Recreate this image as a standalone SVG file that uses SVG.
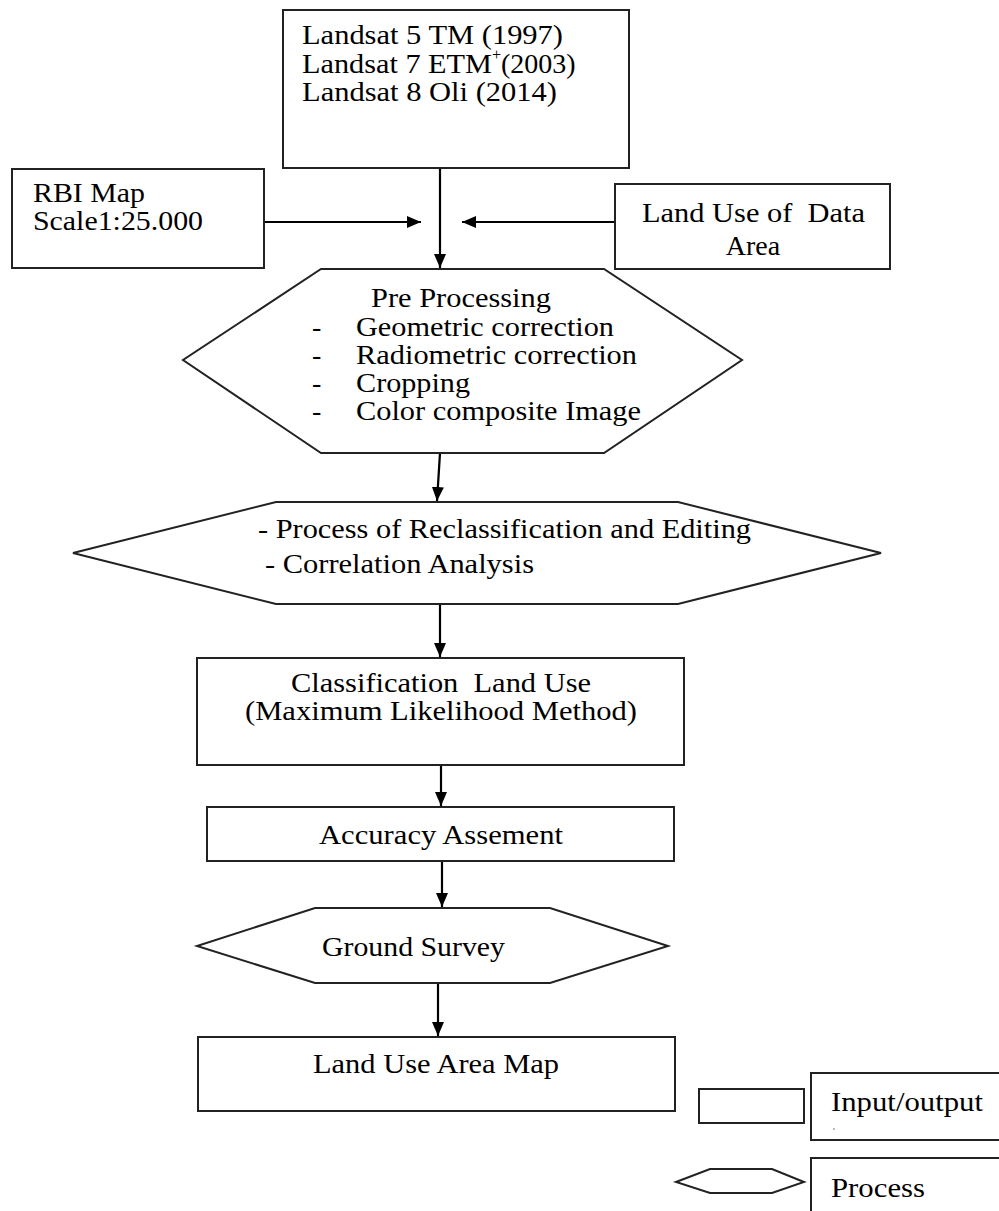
<svg xmlns="http://www.w3.org/2000/svg" width="999" height="1211" viewBox="0 0 999 1211">
<style>
.b{fill:#fff;stroke:#222;stroke-width:2}
.t{font-family:"Liberation Serif","Times New Roman",serif;font-size:28px;fill:#000}
.c{stroke:#000;stroke-width:2.2;fill:none}
</style>
<defs>
<marker id="ah" markerUnits="userSpaceOnUse" markerWidth="14" markerHeight="12" refX="14" refY="6" orient="auto">
<path d="M0,0 L14,6 L0,12 Z" fill="#000"/>
</marker>
</defs>
<rect width="999" height="1211" fill="#fff"/>
<g id="connectors">
<line class="c" x1="440" y1="168" x2="440" y2="268" marker-end="url(#ah)"/>
<line class="c" x1="264" y1="222" x2="421" y2="222" marker-end="url(#ah)"/>
<line class="c" x1="615" y1="222" x2="462" y2="222" marker-end="url(#ah)"/>
<line class="c" x1="440" y1="453" x2="437" y2="501" marker-end="url(#ah)"/>
<line class="c" x1="440" y1="604" x2="440" y2="657" marker-end="url(#ah)"/>
<line class="c" x1="441" y1="765" x2="441" y2="806" marker-end="url(#ah)"/>
<line class="c" x1="442" y1="861" x2="442" y2="907" marker-end="url(#ah)"/>
<line class="c" x1="438" y1="983" x2="438" y2="1036" marker-end="url(#ah)"/>
</g>
<g id="landsat">
<rect class="b" x="283" y="10" width="346" height="158"/>
<text class="t" x="302" y="44" textLength="261" lengthAdjust="spacingAndGlyphs">Landsat 5 TM (1997)</text>
<text class="t" x="302" y="73"><tspan textLength="190" lengthAdjust="spacingAndGlyphs">Landsat 7 ETM</tspan><tspan font-size="16" dy="-13">+</tspan><tspan dy="13">(2003)</tspan></text>
<text class="t" x="302" y="101" textLength="255" lengthAdjust="spacingAndGlyphs">Landsat 8 Oli (2014)</text>
</g>
<g id="rbi">
<rect class="b" x="12" y="169" width="252" height="99"/>
<text class="t" x="33" y="202" textLength="112" lengthAdjust="spacingAndGlyphs">RBI Map</text>
<text class="t" x="33" y="230" textLength="170" lengthAdjust="spacingAndGlyphs">Scale1:25.000</text>
</g>
<g id="landuse-data">
<rect class="b" x="615" y="184" width="275" height="85"/>
<text class="t" x="642" y="222" textLength="223" lengthAdjust="spacingAndGlyphs" xml:space="preserve">Land Use of  Data</text>
<text class="t" x="753" y="255" text-anchor="middle">Area</text>
</g>
<g id="preprocessing">
<polygon class="b" points="321,269 604,269 742,360 604,453 321,453 183,360"/>
<text class="t" x="371" y="307" textLength="180" lengthAdjust="spacingAndGlyphs">Pre Processing</text>
<text class="t" x="312" y="336">-</text>
<text class="t" x="356" y="336" textLength="258" lengthAdjust="spacingAndGlyphs">Geometric correction</text>
<text class="t" x="312" y="364">-</text>
<text class="t" x="356" y="364" textLength="281" lengthAdjust="spacingAndGlyphs">Radiometric correction</text>
<text class="t" x="312" y="392">-</text>
<text class="t" x="356" y="392" textLength="114" lengthAdjust="spacingAndGlyphs">Cropping</text>
<text class="t" x="312" y="420">-</text>
<text class="t" x="356" y="420" textLength="285" lengthAdjust="spacingAndGlyphs">Color composite Image</text>
</g>
<g id="reclassification">
<polygon class="b" points="276,502 678,502 881,553 678,604 276,604 73,553"/>
<text class="t" x="258" y="538" textLength="493" lengthAdjust="spacingAndGlyphs">- Process of Reclassification and Editing</text>
<text class="t" x="265" y="573" textLength="269" lengthAdjust="spacingAndGlyphs">- Correlation Analysis</text>
</g>
<g id="classification">
<rect class="b" x="197" y="658" width="487" height="107"/>
<text class="t" x="291" y="692" textLength="300" lengthAdjust="spacingAndGlyphs" xml:space="preserve">Classification  Land Use</text>
<text class="t" x="245" y="720" textLength="392" lengthAdjust="spacingAndGlyphs">(Maximum Likelihood Method)</text>
</g>
<g id="accuracy">
<rect class="b" x="207" y="807" width="467" height="54"/>
<text class="t" x="319" y="844" textLength="244" lengthAdjust="spacingAndGlyphs">Accuracy Assement</text>
</g>
<g id="ground-survey">
<polygon class="b" points="315,908 550,908 668,946 550,983 315,983 197,946"/>
<text class="t" x="322" y="956" textLength="183" lengthAdjust="spacingAndGlyphs">Ground Survey</text>
</g>
<g id="landuse-map">
<rect class="b" x="198" y="1037" width="477" height="74"/>
<text class="t" x="313" y="1073" textLength="246" lengthAdjust="spacingAndGlyphs">Land Use Area Map</text>
</g>
<g id="legend-io">
<rect class="b" x="699" y="1089" width="105" height="34"/>
<rect class="b" x="811" y="1073" width="200" height="67"/>
<text class="t" x="831" y="1111" textLength="152" lengthAdjust="spacingAndGlyphs">Input/output</text>
<circle cx="834" cy="1129" r="0.8" fill="#666"/>
</g>
<g id="legend-process">
<polygon class="b" points="710,1169 772,1169 804,1182 772,1193 710,1193 676,1182"/>
<rect class="b" x="811" y="1158" width="200" height="70"/>
<text class="t" x="831" y="1197" textLength="94" lengthAdjust="spacingAndGlyphs">Process</text>
</g>
</svg>
